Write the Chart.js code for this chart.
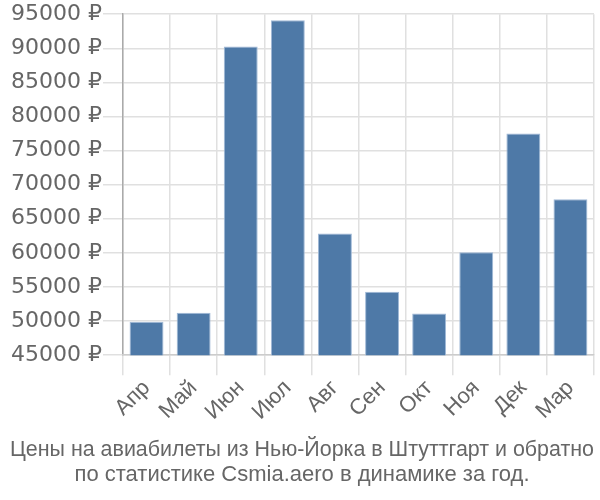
<!DOCTYPE html>
<html>
<head>
<meta charset="utf-8">
<script src="https://cdn.jsdelivr.net/npm/chart.js@4"></script>
<style>
  html, body { margin: 0; padding: 0; background: #fff; }
  #wrap { width: 600px; height: 500px; }
</style>
</head>
<body>
<div id="wrap"><canvas id="grafico"></canvas></div>
<script>
// Месяцы
const labels = ['Апр', 'Май', 'Июн', 'Июл', 'Авг', 'Сен', 'Окт', 'Ноя', 'Дек', 'Мар'];

// Цены, ₽
const prices = [49900, 51200, 90250, 94100, 62850, 54300, 51100, 60100, 77500, 67850];

const titleLines = [
    'Цены на авиабилеты из Нью-Йорка в Штуттгарт и обратно',
    'по статистике Csmia.aero в динамике за год.'
];

Chart.defaults.font.family = '"Liberation Sans", Arial, sans-serif';
Chart.defaults.color = '#666';

const ctx = document.getElementById('grafico').getContext('2d');

new Chart(ctx, {
    type: 'bar',
    data: {
        labels: labels,
        datasets: [{
            data: prices,
            backgroundColor: 'rgb(78, 121, 167)',
            borderColor: 'rgba(160, 185, 215, 1)',
            borderWidth: 1
        }]
    },
    options: {
        responsive: true,
        maintainAspectRatio: false,
        animation: false,
        layout: { padding: { left: 10, right: 6, top: 1, bottom: 0 } },
        plugins: {
            legend: { display: false },
            tooltip: { enabled: false },
            title: {
                display: true,
                position: 'bottom',
                text: titleLines,
                color: '#666',
                font: { size: 22, weight: 'normal', lineHeight: 1.15 },
                padding: { top: 12, bottom: 12 }
            }
        },
        scales: {
            y: {
                min: 45000,
                max: 95000,
                ticks: {
                    stepSize: 5000,
                    padding: 1,
                    font: { size: 22, family: '"DejaVu Sans", sans-serif' },
                    color: '#666',
                    callback: v => v + ' ₽'
                },
                grid: { color: '#e0e0e0', lineWidth: 1.5, tickLength: 20 },
                border: { color: '#aaa', width: 1.5 }
            },
            x: {
                ticks: {
                    font: { size: 22 },
                    color: '#666',
                    padding: 0,
                    maxRotation: 45,
                    minRotation: 45
                },
                grid: { color: '#e0e0e0', lineWidth: 1.5, tickLength: 20 },
                border: { color: '#ccc', width: 1.5 }
            }
        }
    }
});
</script>
</body>
</html>
